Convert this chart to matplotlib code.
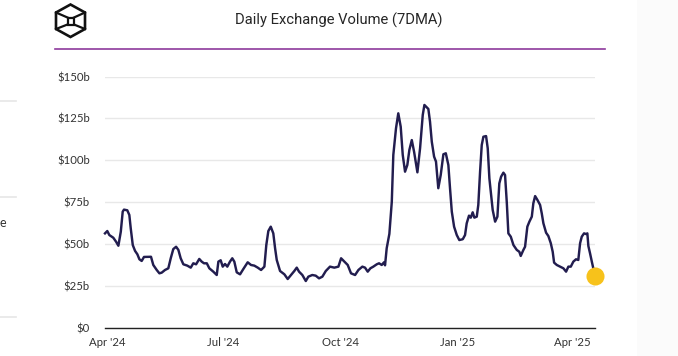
import datetime as dt
import matplotlib
matplotlib.use("Agg")
import matplotlib.pyplot as plt
from matplotlib.lines import Line2D
from matplotlib.patches import Rectangle, Polygon

# ---- data (days since 2024-04-01, 7DMA volume in $b) ----
day_offsets = [
    -1.6, 0.2, 1.8, 4.9, 7.1, 8.9, 10.8, 12.3, 13.3, 15.9, 17.5, 18.6, 20.2, 22.0, 23.8, 25.4,
    27.2, 29.0, 32.4, 34.5, 36.3, 39.0, 41.1, 42.9, 45.5, 48.1, 50.0, 52.0, 54.2, 56.0, 57.8,
    59.9, 63.0, 65.7, 67.7, 69.9, 72.4, 74.3, 76.1, 78.3, 80.3, 83.4, 86.1, 87.4, 89.2, 90.8,
    92.6, 94.4, 96.5, 98.3, 99.9, 101.8, 104.4, 107.0, 110.4, 113.0, 115.6, 118.3, 120.9,
    123.5, 125.0, 126.6, 128.5, 130.5, 131.9, 133.2, 135.8, 139.2, 141.8, 144.4, 147.0, 148.9,
    150.7, 153.3, 156.0, 158.0, 161.1, 163.8, 166.4, 169.0, 171.7, 175.0, 178.4, 181.6, 183.7,
    186.3, 188.9, 191.5, 194.7, 197.3, 200.4, 202.5, 204.6, 206.7, 209.0, 211.7, 213.5, 215.6,
    217.4, 218.2, 219.5, 221.6, 223.5, 224.7, 226.8, 228.6, 230.5, 232.1, 233.9, 235.7, 237.3,
    239.2, 241.0, 243.6, 245.7, 247.8, 249.1, 252.2, 253.5, 254.9, 256.7, 258.2, 260.0, 261.9,
    264.0, 265.9, 267.9, 269.2, 270.6, 272.4, 274.5, 276.5, 279.2, 281.0, 282.3, 284.1, 285.5,
    287.0, 288.3, 290.2, 291.4, 292.8, 294.1, 295.4, 297.5, 298.8, 300.1, 302.7, 304.6, 306.4,
    307.9, 309.3, 311.1, 312.4, 313.8, 315.0, 316.9, 319.0, 321.6, 323.6, 324.7, 326.8, 328.1,
    329.9, 331.5, 333.4, 334.6, 336.0, 337.8, 339.9, 341.2, 342.5, 344.6, 346.4, 348.3, 349.8,
    350.9, 353.0, 355.6, 358.2, 360.3, 362.1, 364.0, 366.0, 368.1, 369.9, 371.3, 372.6, 374.4,
    376.0, 377.0, 377.8, 379.1, 380.5, 382.3, 383.0,
]
volume_b = [
    56.3, 57.7, 55.3, 53.7, 51.3, 48.9, 57.3, 69.3, 70.5, 70.1, 67.3, 59.3, 49.3, 45.8, 43.8, 40.8,
    39.8, 42.2, 42.3, 42.3, 37.4, 34.4, 32.4, 32.8, 34.4, 35.4, 41.4, 46.9, 48.3, 46.4, 41.4,
    37.8, 37.0, 35.8, 38.4, 37.8, 41.0, 39.4, 38.4, 38.4, 35.4, 33.4, 31.4, 39.4, 40.2, 36.4,
    38.0, 36.4, 39.4, 41.4, 39.4, 33.0, 31.8, 35.0, 39.0, 37.4, 37.0, 35.8, 34.4,
    36.4, 49.3, 57.7, 60.3, 56.3, 47.4, 40.4, 33.8, 31.8, 29.0, 31.4, 33.8, 35.8,
    33.4, 31.4, 27.8, 30.4, 31.4, 31.0, 29.4, 30.4, 33.8, 36.4, 35.8, 36.4, 41.4,
    39.4, 37.4, 32.4, 31.4, 34.4, 36.4, 35.8, 33.4, 35.4, 36.4, 37.8, 38.4, 37.4,
    39.0, 37.2, 47.4, 56.0, 75.2, 103.2, 119.1, 128.1, 120.1, 103.2, 93.2, 97.2, 106.2,
    112.1, 105.1, 92.8, 107.2, 127.1, 133.1, 130.7, 123.1, 111.1, 102.2, 99.2, 83.3, 91.2,
    103.6, 104.2, 97.2, 83.3, 69.3, 60.3, 55.3, 52.3, 52.8, 55.3, 62.3, 66.9, 65.7,
    68.9, 65.7, 66.3, 73.3, 93.2, 109.1, 114.1, 114.5, 107.2, 89.2, 70.3, 63.3, 66.3,
    86.2, 90.2, 92.6, 91.2, 74.3, 56.3, 54.3, 49.3, 46.4, 45.3, 42.8, 46.4, 48.3,
    60.3, 63.3, 66.3, 74.3, 78.6, 76.3, 73.3, 68.3, 62.3, 56.7, 54.7, 50.4, 45.3,
    38.8, 37.4, 36.4, 35.4, 33.4, 36.4, 36.4, 39.4, 40.8, 40.4, 50.4, 54.3, 56.3,
    55.9, 56.3, 48.7, 44.4, 39.4, 33.4, 30.8,
]
base_date = dt.datetime(2024, 4, 1)
tick_dates = ["2024-04-01", "2024-07-01", "2024-10-01", "2025-01-01", "2025-04-01"]
tick_labels = ["Apr '24", "Jul '24", "Oct '24", "Jan '25", "Apr '25"]
y_ticks = [0, 25, 50, 75, 100, 125, 150]
y_labels = ["$0", "$25b", "$50b", "$75b", "$100b", "$125b", "$150b"]
title = "Daily Exchange Volume (7DMA)"

dates = [base_date + dt.timedelta(days=d) for d in day_offsets]

W, H = 678, 356
fig = plt.figure(figsize=(W / 100, H / 100), dpi=100)
fig.patch.set_facecolor("white")

def fx(px):
    return px / W

def fy(py):
    return 1 - py / H

# very light grey page strip on the right
fig.add_artist(Rectangle((fx(637), 0), 1 - fx(637), 1, transform=fig.transFigure,
                         facecolor="#fbfbfb", edgecolor="none", zorder=0))
# faint page remnants on left edge
for py in [100.7, 196.7, 316.7]:
    fig.add_artist(Line2D([0, fx(16)], [fy(py), fy(py)], transform=fig.transFigure,
                          color="#e6e6e6", lw=1.2))
fig.text(fx(6), fy(223), "e", ha="right", va="center", fontsize=9, color="#333333",
         family="Lato")

# logo
hexv = [(70.5, 4.5), (85, 12.5), (85, 29), (70.5, 37), (56, 29), (56, 12.5)]
fig.add_artist(Polygon([(fx(a), fy(b)) for a, b in hexv], closed=True, fill=False,
                       edgecolor="#111111", lw=1.9, joinstyle="miter",
                       transform=fig.transFigure))
inner = [(67.5, 17.5), (74, 17.5), (74, 24.5), (67.5, 24.5)]
fig.add_artist(Polygon([(fx(a), fy(b)) for a, b in inner], closed=True, fill=False,
                       edgecolor="#111111", lw=1.6, transform=fig.transFigure))
for (a, b), (c, d) in zip([hexv[5], hexv[1], hexv[2], hexv[4]], inner):
    fig.add_artist(Line2D([fx(a), fx(c)], [fy(b), fy(d)], transform=fig.transFigure,
                          color="#111111", lw=1.6))

# title and purple rule
fig.text(fx(339), fy(20), title, ha="center", va="center", fontsize=10.6,
         color="#262626", family="Roboto")
fig.add_artist(Line2D([fx(55), fx(605)], [fy(49), fy(49)], transform=fig.transFigure,
                      color="#8e3a9c", lw=1.2))

# axes
left, right = fx(105), fx(595)
bottom, top = fy(327.5), fy(76.7)
ax = fig.add_axes([left, bottom, right - left, top - bottom])
ax.set_facecolor("none")
ax.plot(dates, volume_b, color="#221d4f", lw=1.75, solid_joinstyle="round", zorder=3,
        clip_on=False)
ax.plot([dates[-1]], [volume_b[-1]], "o", color="#f7c21b", markersize=13,
        markeredgewidth=0, zorder=4, clip_on=False)

ax.set_xlim(dates[0], dates[-1])
ax.set_ylim(0, 150)
ax.set_yticks(y_ticks)
ax.set_yticklabels(y_labels)
ax.set_xticks([dt.datetime.fromisoformat(s) for s in tick_dates])
ax.set_xticklabels(tick_labels)
ax.grid(axis="y", color="#e8e8e8", lw=1)
ax.set_axisbelow(True)
for s in ["top", "right", "left"]:
    ax.spines[s].set_visible(False)
ax.spines["bottom"].set_color("#222222")
ax.spines["bottom"].set_linewidth(1.0)
ax.spines["bottom"].set_zorder(5)
ax.tick_params(axis="both", length=0, labelsize=8.2, labelcolor="#333333")
ax.tick_params(axis="y", pad=11)
ax.tick_params(axis="x", pad=7)
for lab in ax.get_xticklabels() + ax.get_yticklabels():
    lab.set_family("Lato")

fig.savefig("out.png", dpi=100)
